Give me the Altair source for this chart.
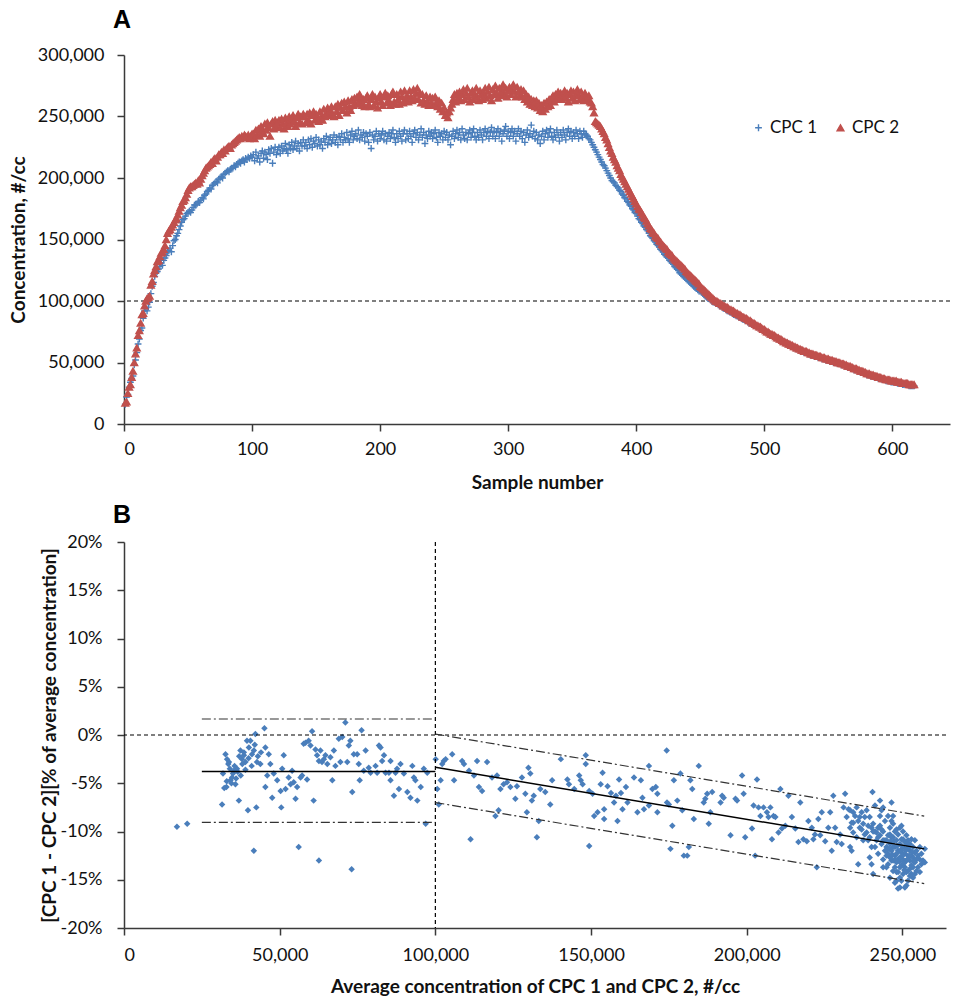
import altair as alt
import pandas as pd

# ---------------- Panel A data (concentration, thousands #/cc, per sample) ----------------
cpc1_k = [
    16, 22, 24, 30, 34, 37, 39, 48, 52, 58, 65, 69, 76, 78, 86, 92, 94, 92, 95, 99,
    106, 112, 115, 120, 123, 124, 126, 128, 131, 129, 133, 135, 137, 140, 141, 143, 140, 145, 149, 150,
    153, 155, 158, 161, 164, 166, 167, 169, 171, 172, 173, 172, 174, 176, 178, 178, 179, 181, 180, 182,
    184, 183, 186, 187, 189, 190, 192, 191, 194, 195, 196, 197, 196, 199, 200, 201, 200, 203, 204, 205,
    206, 205, 207, 208, 208, 210, 209, 211, 212, 213, 212, 214, 215, 213, 216, 215, 217, 216, 218, 217,
    219, 214, 221, 216, 218, 213, 220, 222, 216, 221, 219, 215, 223, 220, 224, 212, 221, 225, 219, 223,
    225, 220, 226, 222, 224, 228, 223, 220, 227, 224, 229, 223, 226, 230, 224, 228, 222, 229, 226, 231,
    226, 229, 224, 231, 227, 232, 225, 230, 228, 233, 226, 231, 227, 230, 224, 232, 229, 234, 227, 231,
    233, 228, 231, 235, 229, 233, 227, 234, 231, 236, 229, 233, 231, 237, 232, 229, 235, 238, 231, 234,
    236, 232, 239, 231, 235, 233, 237, 230, 236, 234, 229, 237, 224, 235, 231, 234, 238, 230, 236, 232,
    235, 238, 231, 236, 230, 234, 237, 232, 236, 239, 233, 229, 236, 232, 238, 234, 230, 236, 239, 231,
    236, 232, 238, 234, 229, 236, 239, 233, 237, 231, 235, 240, 233, 237, 228, 235, 232, 238, 234, 237,
    232, 236, 239, 233, 229, 237, 234, 236, 231, 238, 233, 237, 231, 235, 227, 234, 238, 232, 236, 239,
    233, 237, 231, 240, 235, 232, 237, 231, 236, 239, 233, 237, 240, 234, 231, 237, 233, 239, 235, 231,
    237, 240, 234, 238, 232, 237, 241, 234, 238, 232, 237, 240, 234, 238, 230, 236, 239, 242, 234, 238,
    232, 237, 240, 234, 238, 230, 236, 240, 234, 238, 232, 237, 229, 235, 239, 233, 236, 243, 234, 238,
    232, 237, 231, 235, 228, 234, 238, 231, 236, 239, 233, 237, 240, 234, 231, 237, 233, 239, 235, 230,
    237, 233, 239, 235, 231, 237, 240, 234, 238, 232, 237, 234, 239, 236, 232, 238, 236, 233, 238, 236,
    235, 234, 232, 231, 229, 227, 225, 223, 221, 219, 217, 215, 213, 211, 210, 208, 206, 204, 202, 200,
    198, 197, 196, 194, 193, 192, 190, 189, 187, 186, 184, 183, 181, 180, 178, 177, 175, 174, 172, 171,
    169, 167, 166, 164, 163, 161, 160, 158, 157, 155, 153, 152, 151, 149, 148, 146, 145, 144, 142, 141,
    140, 138, 137, 136, 135, 133, 132, 131, 130, 128, 127, 126, 125, 123, 122, 121, 120, 119, 118, 117,
    116, 115, 114, 113, 112, 111, 110, 109, 108, 108, 107, 106, 105, 104, 103, 102, 102, 101, 100, 99,
    99, 98, 98, 97, 96, 96, 95, 94, 94, 93, 92, 92, 91, 91, 90, 89, 89, 88, 88, 87,
    87, 86, 85, 85, 84, 84, 83, 82, 82, 81, 81, 80, 80, 79, 79, 78, 77, 77, 76, 76,
    75, 74, 74, 73, 72, 72, 71, 71, 70, 70, 69, 68, 68, 67, 67, 66, 66, 65, 65, 64,
    63, 63, 62, 62, 61, 61, 60, 60, 59, 59, 58, 58, 58, 57, 57, 56, 56, 56, 55, 55,
    55, 54, 54, 54, 53, 53, 53, 52, 52, 52, 51, 51, 51, 50, 50, 50, 49, 49, 49, 48,
    48, 48, 47, 47, 46, 46, 46, 45, 45, 44, 44, 44, 43, 43, 42, 42, 42, 41, 41, 40,
    40, 40, 39, 39, 39, 38, 38, 38, 37, 37, 37, 36, 36, 36, 35, 35, 35, 35, 34, 34,
    34, 34, 34, 33, 33, 33, 33, 32, 32, 32, 32, 32, 31, 31, 31, 31, 31,
]
cpc2_k = [
    17, 18, 25, 30, 32, 38, 43, 50, 57, 62, 72, 76, 82, 89, 90, 96, 100, 102, 103, 104,
    113, 116, 122, 125, 128, 132, 133, 136, 139, 140, 142, 145, 150, 155, 157, 158, 160, 162, 164, 166,
    167, 170, 173, 176, 178, 181, 182, 184, 187, 190, 192, 193, 193, 194, 195, 196, 195, 198, 196, 199,
    202, 204, 206, 208, 209, 210, 211, 213, 212, 215, 216, 214, 217, 219, 219, 221, 220, 223, 222, 224,
    225, 226, 224, 227, 228, 229, 230, 231, 232, 233, 232, 234, 233, 235, 234, 233, 235, 232, 234, 236,
    236, 232, 239, 235, 240, 234, 242, 238, 236, 244, 239, 245, 241, 234, 244, 246, 240, 247, 242, 245,
    247, 241, 248, 244, 240, 249, 245, 242, 250, 244, 248, 251, 246, 242, 249, 252, 245, 250, 244, 252,
    250, 245, 252, 247, 253, 244, 251, 254, 247, 252, 249, 246, 254, 250, 247, 256, 250, 253, 257, 251,
    255, 258, 252, 250, 258, 254, 260, 251, 257, 261, 255, 262, 258, 253, 263, 258, 255, 264, 259, 265,
    260, 266, 261, 268, 263, 259, 264, 258, 265, 267, 260, 258, 264, 268, 259, 266, 262, 257, 265, 268,
    262, 259, 266, 269, 261, 267, 263, 259, 268, 270, 262, 260, 268, 264, 260, 270, 266, 261, 271, 264,
    267, 262, 271, 266, 263, 272, 265, 269, 273, 264, 269, 261, 268, 263, 260, 267, 262, 259, 266, 261,
    265, 259, 266, 261, 258, 263, 256, 261, 254, 257, 251, 253, 249, 254, 257, 260, 264, 268, 262, 269,
    265, 270, 263, 268, 272, 264, 269, 273, 266, 262, 269, 271, 264, 268, 273, 266, 263, 271, 268, 264,
    269, 273, 265, 270, 274, 267, 263, 272, 268, 275, 269, 265, 273, 267, 271, 276, 268, 273, 266, 271,
    274, 268, 272, 276, 270, 266, 274, 270, 267, 272, 266, 271, 264, 268, 262, 266, 260, 264, 259, 263,
    258, 263, 257, 261, 255, 259, 254, 261, 256, 262, 258, 264, 259, 265, 267, 262, 268, 264, 270, 265,
    269, 264, 268, 271, 265, 269, 262, 268, 271, 265, 270, 263, 268, 272, 267, 264, 270, 266, 263, 269,
    266, 264, 267, 262, 261, 258, 253, 246, 245, 244, 243, 242, 240, 238, 236, 233, 231, 228, 225, 222,
    220, 217, 215, 213, 210, 208, 206, 203, 201, 199, 197, 195, 193, 191, 189, 187, 185, 183, 181, 179,
    177, 175, 174, 172, 170, 168, 167, 165, 163, 161, 159, 158, 156, 155, 153, 152, 151, 149, 148, 146,
    145, 144, 143, 142, 140, 139, 138, 137, 135, 134, 133, 132, 131, 130, 129, 128, 127, 126, 124, 123,
    122, 121, 120, 119, 118, 117, 116, 115, 114, 112, 111, 110, 109, 108, 107, 106, 105, 104, 103, 102,
    101, 100, 100, 99, 98, 98, 97, 96, 96, 95, 95, 94, 93, 93, 92, 92, 91, 90, 90, 89,
    89, 88, 87, 87, 86, 86, 85, 84, 84, 83, 82, 82, 81, 80, 80, 79, 79, 78, 77, 77,
    76, 75, 75, 74, 73, 73, 72, 72, 71, 70, 70, 69, 69, 68, 67, 67, 66, 66, 65, 65,
    64, 64, 63, 63, 62, 62, 61, 61, 60, 60, 59, 59, 59, 58, 58, 57, 57, 57, 56, 56,
    56, 55, 55, 55, 54, 54, 54, 53, 53, 53, 52, 52, 52, 51, 51, 51, 50, 50, 50, 49,
    49, 49, 48, 48, 47, 47, 47, 46, 46, 45, 45, 45, 44, 44, 43, 43, 43, 42, 42, 41,
    41, 41, 40, 40, 40, 39, 39, 39, 38, 38, 38, 37, 37, 37, 36, 36, 36, 36, 35, 35,
    35, 35, 35, 34, 34, 34, 34, 33, 33, 33, 33, 33, 32, 32, 32, 32, 32,
]
series_names = ["CPC 1", "CPC 2"]
a_reference_level = [100000]
a_x_ticks = [0, 100, 200, 300, 400, 500, 600]
a_y_ticks = [0, 50000, 100000, 150000, 200000, 250000, 300000]

# ---------------- Panel B data (avg conc in thousands, difference in %) ----------------
b_left_points = [
    (17.0, -9.5), (20.3, -9.2), (31.5, -7.2), (32.6, -2.0), (33.1, -2.5), (33.7, -2.8), (32.9, -5.4), (34.2, -4.7),
    (34.7, -4.4), (35.3, -3.7), (35.8, -5.1), (36.3, -3.5), (36.9, -6.8), (37.4, -1.6), (37.9, -2.5), (38.5, -2.1),
    (39.0, -2.8), (39.5, -0.6), (39.8, -7.8), (40.1, -1.3), (40.6, -0.6), (41.1, -2.0), (41.7, -1.6), (41.7, -12.0),
    (42.2, 0.1), (42.5, -7.5), (42.7, -2.8), (43.8, -3.0), (45.1, 0.7), (45.4, -1.3), (45.4, -5.4), (46.0, -4.2),
    (46.5, -2.0), (47.0, -3.0), (47.6, -6.5), (48.1, -4.0), (49.2, -4.7), (50.3, -5.8), (50.5, -7.5), (50.8, -3.5),
    (51.3, -2.1), (51.9, -5.6), (52.9, -4.4), (53.5, -5.1), (54.0, -3.7), (54.5, -4.9), (55.1, -6.6), (55.6, -5.4),
    (56.1, -11.6), (56.7, -4.4), (57.2, -4.2), (57.7, -0.9), (58.3, -0.8), (58.8, -4.6), (59.3, -0.6), (59.9, -1.1),
    (60.4, 0.4), (60.9, -6.8), (61.5, -1.5), (62.0, -2.1), (62.6, -13.0), (62.6, -2.7), (63.1, -1.6), (63.6, -2.8),
    (64.2, -2.5), (64.7, -2.1), (65.3, -3.0), (66.3, -2.3), (66.9, -4.7), (67.4, -1.6), (67.9, -3.2), (69.0, -0.4),
    (69.5, -2.8), (70.1, -0.2), (71.1, 1.3), (71.7, -2.8), (72.2, -1.1), (72.7, -0.6), (73.1, -13.9), (73.3, -5.9),
    (73.8, -2.0), (74.9, -2.0), (75.4, -3.0), (75.7, -4.7), (76.3, 0.5), (77.0, -3.7), (77.6, -1.6), (78.6, -3.4),
    (79.2, -3.9), (80.8, -3.2), (81.3, -3.9), (81.9, -1.1), (82.4, -1.3), (82.9, -2.7), (83.5, -2.1), (84.0, -3.9),
    (85.1, -3.9), (85.6, -2.7), (85.6, -4.7), (86.7, -6.3), (87.2, -3.9), (87.7, -3.5), (88.3, -5.6), (88.8, -3.0),
    (89.9, -4.0), (91.0, -5.9), (92.0, -6.5), (92.6, -3.2), (93.1, -4.4), (93.6, -4.7), (94.2, -6.8), (95.3, -5.4),
    (96.3, -3.5), (96.9, -9.2), (97.4, -3.9),
    (33.5, -3.0), (34.0, -3.5), (34.5, -5.0), (35.0, -4.0), (35.5, -3.2), (36.0, -4.5), (36.5, -3.8), (37.0, -2.2),
    (37.5, -4.2), (38.0, -3.0), (38.5, -1.8), (39.0, -3.6), (40.0, -2.4), (41.0, -3.2), (42.0, -1.0), (43.0, -2.2),
    (44.0, -1.8), (31.8, -4.0), (32.2, -5.5), (33.0, -4.8),
]
b_mid_points = [
    (100.1, -2.5), (100.6, -5.6), (101.1, -7.2), (101.7, -4.7), (102.2, -3.0), (102.7, -2.7), (103.3, -2.5),
    (105.4, -2.0), (106.0, -4.7), (108.6, -2.7), (109.2, -3.0), (110.8, -3.7), (111.3, -10.8), (112.4, -4.2),
    (113.4, -2.7), (114.0, -5.4), (115.0, -5.8), (116.6, -2.8), (118.2, -4.4), (119.3, -8.4), (119.8, -4.2),
    (120.3, -7.8), (120.9, -5.6), (121.9, -5.1), (123.0, -4.9), (124.1, -5.4), (125.7, -6.6), (126.2, -5.3),
    (127.8, -4.4), (128.9, -6.1), (129.4, -8.0), (129.9, -3.4), (130.5, -4.0), (131.0, -6.8), (131.6, -6.3),
    (132.6, -10.6), (133.2, -8.9), (133.7, -5.6), (135.3, -5.9), (136.9, -7.2), (137.5, -4.7),
]
b_upper_points = [
    (140.3, -2.5), (142.4, -4.6), (142.9, -5.1), (144.6, -5.6), (146.2, -4.2), (146.7, -4.7), (147.3, -5.1),
    (148.3, -2.1), (148.3, -3.0), (149.4, -11.5), (149.4, -5.8), (150.5, -6.1), (151.0, -8.4), (152.1, -8.0),
    (153.1, -5.1), (153.7, -3.9), (154.2, -8.7), (154.2, -7.7), (155.3, -5.3), (156.4, -6.0), (157.4, -7.0),
    (158.0, -6.3), (158.5, -8.9), (159.0, -4.6), (159.6, -6.0), (160.1, -7.7), (161.2, -5.4), (161.7, -7.0),
    (163.8, -4.4), (164.9, -8.0), (166.0, -4.7), (166.5, -6.5), (167.0, -7.7), (168.6, -3.2), (168.6, -7.3),
    (169.7, -5.6), (170.8, -5.4), (171.3, -8.0), (171.3, -6.1), (174.3, -1.6), (174.4, -7.0), (175.0, -7.2),
    (175.5, -11.8), (176.1, -9.4), (176.6, -4.7), (177.7, -6.8), (178.7, -4.0), (179.3, -7.8), (179.8, -12.5),
    (180.9, -12.5), (181.4, -11.6), (181.9, -4.7), (182.5, -5.6), (183.0, -8.7), (184.6, -3.2), (186.2, -7.0),
    (186.7, -6.6), (187.3, -6.1), (187.8, -9.2), (188.3, -8.0), (188.9, -5.9), (191.6, -7.0), (192.1, -6.3),
    (192.6, -6.5), (194.8, -10.4), (196.4, -6.6), (196.9, -6.8), (198.5, -4.2), (199.0, -6.1), (199.5, -10.6),
    (201.7, -9.7), (202.2, -7.3), (202.7, -12.5), (203.3, -4.6), (203.8, -7.5), (204.4, -8.4), (205.4, -7.5),
    (206.5, -8.0), (207.0, -8.5), (207.6, -7.5), (208.1, -10.8), (208.6, -8.4), (209.2, -8.5), (210.2, -10.1),
    (210.8, -5.6), (211.3, -9.7), (212.4, -9.4), (213.4, -6.3), (214.5, -8.5), (215.6, -9.7), (216.6, -11.1),
    (217.2, -7.0), (218.2, -10.8), (219.3, -11.0), (219.8, -8.9), (220.9, -9.6), (221.4, -10.8), (221.9, -10.3),
    (222.5, -13.7), (223.0, -8.7), (223.6, -10.4), (224.1, -8.0), (225.2, -11.0), (226.2, -9.6), (226.8, -8.0),
    (227.3, -12.0), (227.8, -6.3), (228.4, -9.6), (228.9, -11.1), (230.0, -10.3), (230.5, -11.3),
]
b_cluster_points = [
    (231.1, -7.5), (231.6, -6.1), (232.1, -8.5), (233.2, -7.8), (233.2, -9.6), (233.7, -9.1), (234.2, -8.0), (234.2, -10.1),
    (234.8, -8.4), (235.3, -7.5), (235.8, -13.4), (235.8, -8.9), (236.3, -9.6), (236.9, -8.0), (237.4, -9.2), (237.4, -10.9),
    (237.9, -8.5), (238.5, -10.1), (239.0, -9.4), (239.5, -10.6), (239.5, -8.5), (240.1, -11.6), (240.4, -5.9), (240.6, -9.2),
    (240.6, -14.4), (241.2, -10.0), (241.2, -7.3), (241.7, -10.9), (242.2, -9.6), (242.2, -12.3), (242.8, -10.4), (242.8, -8.4),
    (243.3, -11.3), (243.3, -7.8), (243.8, -10.0), (243.8, -12.9), (244.4, -10.9), (244.4, -8.9), (244.9, -11.6), (244.9, -13.7),
    (245.4, -10.4), (245.4, -12.3), (246.0, -9.6), (246.0, -11.3), (246.0, -14.8), (246.5, -7.0), (246.5, -12.0), (246.5, -13.0),
    (247.0, -10.6), (247.0, -9.2), (247.0, -14.1), (247.6, -11.6), (247.6, -12.5), (247.6, -10.0), (248.1, -10.9), (248.1, -13.2),
    (248.1, -15.1), (248.6, -12.0), (248.6, -10.3), (248.6, -14.2), (249.2, -11.3), (249.2, -12.7), (249.2, -9.6), (249.2, -15.8),
    (249.7, -12.2), (249.7, -13.5), (249.7, -10.8), (250.2, -11.6), (250.2, -12.9), (250.2, -14.4), (250.2, -10.0), (250.8, -12.3),
    (250.8, -11.1), (250.8, -13.7), (251.3, -15.6), (251.3, -11.8), (251.3, -13.0), (251.3, -10.4), (251.8, -12.5), (251.8, -10.9),
    (251.8, -14.1), (252.4, -12.0), (252.4, -13.0), (252.4, -11.3), (252.9, -12.5), (252.9, -10.8), (252.9, -13.5), (253.4, -11.6),
    (253.4, -12.7), (254.0, -10.9), (254.0, -13.2), (254.5, -12.0), (255.0, -12.5), (255.6, -12.9), (256.1, -13.4), (256.6, -13.0),
    (257.2, -11.8), (257.2, -13.2), (256.1, -12.3), (255.6, -11.6), (255.0, -13.7), (254.5, -14.1), (254.0, -14.4), (253.4, -14.8),
    (252.9, -14.4), (252.4, -14.6), (251.8, -15.1), (250.8, -15.8), (249.7, -15.1), (249.2, -14.8), (248.1, -14.2), (247.6, -13.7),
    (247.0, -13.0), (246.5, -10.6), (246.0, -12.7), (245.4, -13.4), (244.9, -12.5), (244.4, -12.0), (243.8, -10.9), (243.3, -9.8),
    (242.8, -9.4), (242.2, -10.6), (241.7, -10.1), (241.2, -11.6), (240.6, -10.0), (240.1, -9.6), (239.5, -12.7), (239.0, -10.9),
    (238.5, -7.8), (237.9, -10.3), (236.9, -9.8), (236.3, -8.5), (235.3, -10.6), (234.2, -9.1), (233.2, -11.6), (232.7, -7.7),
    (233.7, -12.0), (240.1, -13.4), (243.8, -13.7), (244.9, -10.9), (246.0, -10.3), (247.0, -11.6), (248.1, -12.3), (249.2, -13.7),
    (250.2, -10.8), (251.3, -14.2), (252.4, -12.5), (253.4, -13.7), (254.5, -12.9), (255.6, -14.2), (254.0, -12.2), (249.7, -9.4),
    (248.1, -9.8), (246.5, -8.9), (245.4, -8.4), (243.8, -7.5), (242.8, -6.8), (247.0, -8.4), (247.6, -15.3), (248.6, -15.9),
    (245.9, -11.8), (246.8, -12.4), (247.3, -11.0), (248.3, -11.5), (248.9, -12.8), (249.5, -11.9), (250.0, -12.5), (250.5, -13.3),
    (251.0, -12.0), (251.6, -12.9), (252.1, -11.6), (252.6, -13.8), (253.1, -12.1), (253.7, -13.1), (249.0, -13.1), (250.6, -14.0),
    (251.5, -11.3), (247.8, -12.9), (246.2, -11.0), (245.0, -11.9),
]
# fitted lines (solid) and +/- bands (dash-dot), endpoints in (thousands, %)
fit_segment = ["low", "low", "high", "high"]
fit_x_k = [25, 100, 100, 257]
fit_pct = [-3.77, -3.77, -3.35, -11.8]
band_segment = ["low_up", "low_up", "low_dn", "low_dn", "high_up", "high_up", "high_dn", "high_dn"]
band_x_k = [25, 100, 25, 100, 100, 257, 100, 257]
band_pct = [1.66, 1.66, -9.05, -9.05, 0.1, -8.4, -7.0, -15.4]
b_reference_x = [100000]
b_reference_y = [0]
b_x_ticks = [0, 50000, 100000, 150000, 200000, 250000]
b_y_ticks = [-20, -15, -10, -5, 0, 5, 10, 15, 20]

# ---------------- build tables ----------------
samples = list(range(1, len(cpc1_k) + 1))
dfa = pd.DataFrame({
    "sample": samples + samples,
    "conc": [v * 1000 for v in cpc1_k] + [v * 1000 for v in cpc2_k],
    "series": [series_names[0]] * len(cpc1_k) + [series_names[1]] * len(cpc2_k),
})
b_all = b_left_points + b_mid_points + b_upper_points + b_cluster_points
dfb = pd.DataFrame({"avg": [p[0] * 1000 for p in b_all], "pct": [p[1] for p in b_all]})
dffit = pd.DataFrame({"avg": [v * 1000 for v in fit_x_k], "pct": fit_pct, "seg": fit_segment})
dfband = pd.DataFrame({"avg": [v * 1000 for v in band_x_k], "pct": band_pct, "seg": band_segment})

FONT = "Lato"
INK = "#111111"
AXIS_INK = "#3a3a3a"
BLUE = "#4A7EBB"
RED = "#C0504D"
PLUS = "M-1,0L1,0M0,-1L0,1"
TITLE_SIZE = 19

# ---------------- Panel A ----------------
xa = alt.X("sample:Q", scale=alt.Scale(domain=[0, 645], nice=False, zero=False),
           axis=alt.Axis(values=a_x_ticks, format="d", title="Sample number",
                         labelPadding=9, titlePadding=15))
ya = alt.Y("conc:Q", scale=alt.Scale(domain=[0, 300000], nice=False),
           axis=alt.Axis(values=a_y_ticks, format=",d", title="Concentration, #/cc",
                         labelPadding=13, titleX=-96))

leg = alt.Legend(orient="none", legendX=626, legendY=64, direction="horizontal",
                 labelFont=FONT, labelFontSize=17, labelColor=INK, symbolSize=46,
                 symbolStrokeWidth=1.4, labelOffset=3, columnPadding=14, padding=0)

a_rule = alt.Chart(pd.DataFrame({"conc": a_reference_level})).mark_rule(
    color="#000000", strokeDash=[4, 3], strokeWidth=1.2).encode(y=alt.Y("conc:Q"))

a_pts = alt.Chart(dfa).mark_point(filled=False, size=46, strokeWidth=1.4, opacity=1).encode(
    x=xa, y=ya,
    color=alt.Color("series:N", title=None, scale=alt.Scale(domain=series_names, range=[BLUE, RED]), legend=leg),
    fill=alt.Fill("series:N", title=None, scale=alt.Scale(domain=series_names, range=["transparent", RED]), legend=leg),
    shape=alt.Shape("series:N", title=None, scale=alt.Scale(domain=series_names, range=[PLUS, "triangle-up"]), legend=leg),
)

a_label = alt.Chart(pd.DataFrame({"t": ["A"]})).mark_text(
    font="Liberation Sans", fontSize=25, fontWeight="bold", color="#000000",
    align="center", baseline="middle").encode(text="t:N", x=alt.value(-2), y=alt.value(-35))

panel_a = alt.layer(a_rule, a_pts, a_label).properties(width=826, height=369)

# ---------------- Panel B ----------------
xb = alt.X("avg:Q", scale=alt.Scale(domain=[0, 264000], nice=False),
           axis=alt.Axis(values=b_x_ticks, format=",d", title="Average concentration of CPC 1 and CPC 2, #/cc",
                         labelPadding=11, titlePadding=13))
yb = alt.Y("pct:Q", scale=alt.Scale(domain=[-20, 20], nice=False),
           axis=alt.Axis(values=b_y_ticks, title="[CPC 1 - CPC 2][% of average concentration]",
                         labelExpr="(datum.value < 0 ? '-' : '') + abs(datum.value) + '%'",
                         labelPadding=15, titleX=-65))

b_pts = alt.Chart(dfb).mark_point(shape="diamond", filled=True, size=42, color=BLUE, opacity=1).encode(x=xb, y=yb)
b_hrule = alt.Chart(pd.DataFrame({"pct": b_reference_y})).mark_rule(
    color="#000000", strokeDash=[4, 3], strokeWidth=1.2).encode(y=alt.Y("pct:Q"))
b_vrule = alt.Chart(pd.DataFrame({"avg": b_reference_x})).mark_rule(
    color="#000000", strokeDash=[4, 3], strokeWidth=1.2).encode(x=alt.X("avg:Q"))
b_fit = alt.Chart(dffit).mark_line(color="#000000", strokeWidth=1.5).encode(
    x=alt.X("avg:Q"), y=alt.Y("pct:Q"), detail="seg:N")
b_band = alt.Chart(dfband).mark_line(color="#333333", strokeWidth=1.2, strokeDash=[9, 3, 2, 3]).encode(
    x=alt.X("avg:Q"), y=alt.Y("pct:Q"), detail="seg:N")
b_label = alt.Chart(pd.DataFrame({"t": ["B"]})).mark_text(
    font="Liberation Sans", fontSize=25, fontWeight="bold", color="#000000",
    align="center", baseline="middle").encode(text="t:N", x=alt.value(-2), y=alt.value(-27))

panel_b = alt.layer(b_pts, b_hrule, b_vrule, b_band, b_fit, b_label).properties(width=822, height=386)

chart = alt.vconcat(panel_a, panel_b, spacing=11).properties(
    padding={"left": 9, "top": 8, "right": 0, "bottom": 4}
).configure_view(stroke=None).configure_axis(
    grid=False, domainColor=AXIS_INK, domainWidth=1.5, tickColor=AXIS_INK, tickWidth=1.5, tickSize=7,
    labelFont=FONT, labelFontSize=18, labelColor=INK,
    titleFont=FONT, titleFontSize=TITLE_SIZE, titleFontWeight="bold", titleColor=INK,
)

chart.save("out.html", embed_options={"renderer": "svg", "actions": False})
